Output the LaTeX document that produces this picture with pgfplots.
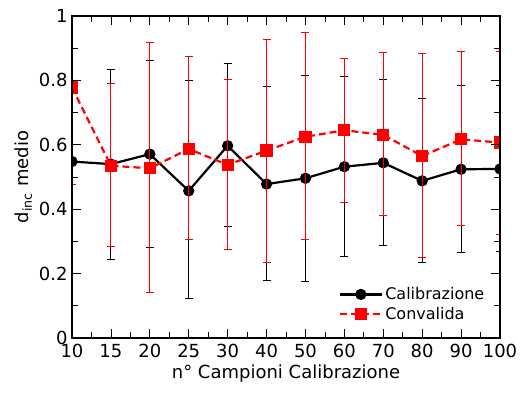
\documentclass[border=0pt]{standalone}
\usepackage{pgfplots}
\pgfplotsset{compat=1.18}
\usepackage{pgfplotstable}
\usepackage{fontspec}
\setmainfont{DejaVu Sans}
\pgfplotstableread{
x y ep em
0 0.548 0.000 0.000
1 0.540 0.294 0.296
2 0.571 0.292 0.291
3 0.457 0.342 0.334
4 0.597 0.256 0.252
5 0.478 0.302 0.300
6 0.496 0.319 0.321
7 0.532 0.280 0.280
8 0.544 0.259 0.258
9 0.488 0.255 0.254
10 0.524 0.261 0.259
11 0.525 0.259 0.255
}\calib
\pgfplotstableread{
x y ep em
0 0.778 0.300 0.300
1 0.535 0.254 0.252
2 0.527 0.391 0.386
3 0.587 0.286 0.282
4 0.538 0.265 0.263
5 0.582 0.344 0.346
6 0.625 0.323 0.320
7 0.645 0.222 0.223
8 0.631 0.256 0.249
9 0.565 0.318 0.314
10 0.617 0.272 0.269
11 0.607 0.284 0.285
}\conv
\begin{document}
\begin{tikzpicture}
\useasboundingbox (-72pt,-67pt) rectangle (451pt,338pt);
\begin{axis}[
 scale only axis, width=428pt, height=322pt,
 xmin=0, xmax=11, ymin=0, ymax=1,
 xtick={0,...,11}, xticklabels={10,15,20,25,30,40,50,60,70,80,90,100},
 minor x tick num=1,
 ytick={0,0.2,0.4,0.6,0.8,1}, minor y tick num=1,
 tick align=inside,
 axis on top,
 major tick length=9pt, minor tick length=6pt,
 tick style={black, line width=0.8pt},
 axis line style={line width=1.2pt},
 ticklabel style={font=\fontsize{18}{21}\selectfont},
 xticklabel shift=3pt,
 yticklabel style={xshift=-1pt},
 /pgf/number format/assume math mode=true,
 xlabel={n° Campioni Calibrazione},
 ylabel={d\textsubscript{inc} medio},
 label style={font=\fontsize{18}{21}\selectfont},
 clip marker paths=true,
 legend style={at={(0.615,0.04)}, anchor=south west, draw=none, fill=none,
   font=\fontsize{16}{19}\selectfont, row sep=2pt},
 legend cell align=left,
 legend image code/.code={\draw[line width=2.2pt, mark repeat=2,mark phase=2] plot coordinates {(0cm,0cm)(0.75cm,0cm)(1.5cm,0cm)};},
]
\addplot[black, line width=2.2pt, mark=*, mark size=4.5pt, mark options={solid},
  error bars/.cd, y dir=both, y explicit,
  error bar style={line width=0.9pt, black},
  error mark options={rotate=90, mark size=4pt, line width=0.9pt, black}]
  table[x=x, y=y, y error plus=ep, y error minus=em] {\calib};
\addlegendentry{Calibrazione}
\addplot[red, line width=2.2pt, dashed, dash pattern=on 7pt off 4pt, mark=square*, mark size=5pt, mark options={solid},
  error bars/.cd, y dir=both, y explicit,
  error bar style={line width=0.9pt, red, solid},
  error mark options={rotate=90, mark size=4pt, line width=0.9pt, red, solid}]
  table[x=x, y=y, y error plus=ep, y error minus=em] {\conv};
\addlegendentry{Convalida}
\end{axis}
\end{tikzpicture}
\end{document}
